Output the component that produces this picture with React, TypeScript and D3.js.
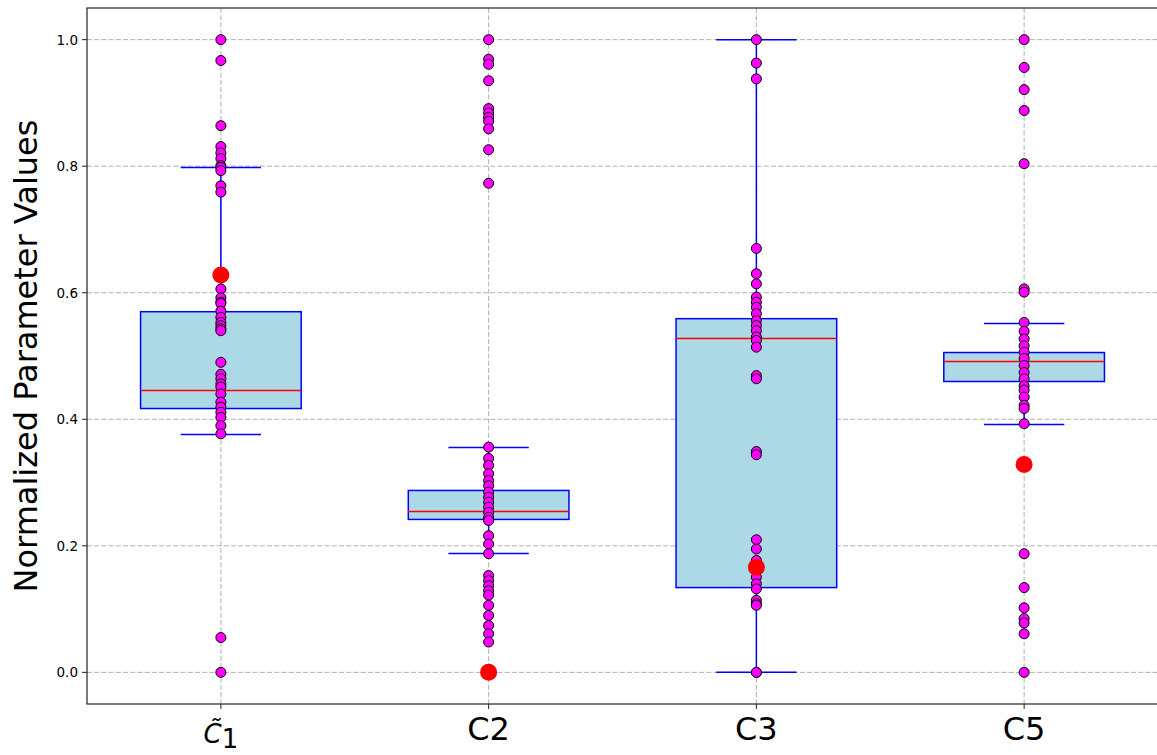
import React from "react";
import * as d3 from "d3";

// Categories along the x axis
const categories = ["C1", "C2", "C3", "C5"];

// Box statistics per category
const whiskerLow = [0.376, 0.188, 0.0, 0.3918];
const q1 = [0.417, 0.2417, 0.134, 0.4597];
const median = [0.4455, 0.2543, 0.5276, 0.4913];
const q3 = [0.570, 0.2875, 0.559, 0.5055];
const whiskerHigh = [0.798, 0.3555, 1.0, 0.5513];

// Individual normalized parameter values per category
const pointsC1 = [
  1.0, 0.967, 0.864, 0.831, 0.821, 0.812, 0.801, 0.798, 0.793, 0.769, 0.759,
  0.606, 0.592, 0.585, 0.583, 0.571, 0.561, 0.553, 0.548, 0.543, 0.540,
  0.490, 0.471, 0.464, 0.456, 0.451, 0.440, 0.427, 0.419, 0.411, 0.403,
  0.390, 0.377, 0.055, 0.0,
];
const pointsC2 = [
  1.0, 0.969, 0.961, 0.935, 0.891, 0.884, 0.877, 0.871, 0.859, 0.826, 0.773,
  0.356, 0.338, 0.327, 0.314, 0.303, 0.295, 0.285, 0.277, 0.269, 0.261,
  0.253, 0.245, 0.240, 0.216, 0.203, 0.1875, 0.153, 0.145, 0.137, 0.129,
  0.122, 0.106, 0.090, 0.074, 0.061, 0.048,
];
const pointsC3 = [
  1.0, 0.963, 0.938, 0.670, 0.630, 0.614, 0.593, 0.585, 0.577, 0.567, 0.556,
  0.548, 0.540, 0.530, 0.5245, 0.514, 0.469, 0.464, 0.349, 0.344, 0.2096,
  0.195, 0.177, 0.164, 0.1506, 0.140, 0.132, 0.114, 0.1085, 0.106, 0.0, 0.0,
];
const pointsC5 = [
  1.0, 0.956, 0.921, 0.888, 0.804, 0.606, 0.601, 0.553, 0.539, 0.527, 0.516,
  0.506, 0.496, 0.485, 0.474, 0.464, 0.453, 0.446, 0.435, 0.422, 0.417,
  0.393, 0.1875, 0.134, 0.102, 0.085, 0.078, 0.061, 0.0,
];
const points = [pointsC1, pointsC2, pointsC3, pointsC5];

// Highlighted reference value per category
const highlight = [0.628, 0.0, 0.166, 0.3286];

const yTicks = [0.0, 0.2, 0.4, 0.6, 0.8, 1.0];

const W = 1157;
const H = 755;
const left = 87;
const right = 1158;
const top = 8;
const bottom = 704;

export default function App() {
  const x = d3.scaleBand<string>().domain(categories).range([left, right]).padding(0);
  const y = d3.scaleLinear().domain([-0.05, 1.05]).range([bottom, top]);
  const bw = x.bandwidth();
  const cx = (c: string) => (x(c) as number) + bw / 2;
  const boxW = bw * 0.6;
  const capW = bw * 0.3;
  const gridStyle = { stroke: "#b0b0b0", strokeWidth: 1, strokeDasharray: "5,2.2" };
  const font = "DejaVu Sans, sans-serif";

  return (
    <div style={{ position: "fixed", left: 0, top: 0 }}>
      <svg width={W} height={H} style={{ display: "block", background: "#fff" }}>
        <defs>
          <clipPath id="plot">
            <rect x={left} y={top} width={right - left} height={bottom - top} />
          </clipPath>
        </defs>
        {/* grid */}
        <g>
          {yTicks.map((t) => (
            <line key={"gy" + t} x1={left} x2={right} y1={y(t)} y2={y(t)} {...gridStyle} />
          ))}
          {categories.map((c) => (
            <line key={"gx" + c} x1={cx(c)} x2={cx(c)} y1={top} y2={bottom} {...gridStyle} />
          ))}
        </g>
        {/* boxes */}
        <g clipPath="url(#plot)">
          {categories.map((c, i) => {
            const xc = cx(c);
            return (
              <g key={"box" + c}>
                <line x1={xc} x2={xc} y1={y(q3[i])} y2={y(whiskerHigh[i])} stroke="#0000ff" strokeWidth={1.5} />
                <line x1={xc} x2={xc} y1={y(q1[i])} y2={y(whiskerLow[i])} stroke="#0000ff" strokeWidth={1.5} />
                <line x1={xc - capW / 2} x2={xc + capW / 2} y1={y(whiskerHigh[i])} y2={y(whiskerHigh[i])} stroke="#0000ff" strokeWidth={1.5} />
                <line x1={xc - capW / 2} x2={xc + capW / 2} y1={y(whiskerLow[i])} y2={y(whiskerLow[i])} stroke="#0000ff" strokeWidth={1.5} />
                <rect
                  x={xc - boxW / 2}
                  y={y(q3[i])}
                  width={boxW}
                  height={y(q1[i]) - y(q3[i])}
                  fill="#add8e6"
                  stroke="#0000ff"
                  strokeWidth={1.5}
                />
                <line x1={xc - boxW / 2} x2={xc + boxW / 2} y1={y(median[i])} y2={y(median[i])} stroke="#ff0000" strokeWidth={1.5} />
              </g>
            );
          })}
        </g>
        {/* points */}
        <g>
          {categories.map((c, i) =>
            points[i].map((v, j) => (
              <circle key={c + "p" + j} cx={cx(c)} cy={y(v)} r={5} fill="#ff00ff" stroke="#000" strokeWidth={1} />
            ))
          )}
          {categories.map((c, i) => (
            <circle key={c + "h"} cx={cx(c)} cy={y(highlight[i])} r={8.5} fill="#ff0000" />
          ))}
        </g>
        {/* frame */}
        <rect x={left} y={top} width={right - left} height={bottom - top} fill="none" stroke="#222" strokeWidth={1.2} />
        {/* y axis */}
        <g fontFamily={font} fontSize={13.5} fill="#000">
          {yTicks.map((t) => (
            <g key={"yt" + t}>
              <line x1={left - 5} x2={left} y1={y(t)} y2={y(t)} stroke="#222" strokeWidth={1} />
              <text x={left - 9} y={y(t)} textAnchor="end" dominantBaseline="central">
                {t.toFixed(1)}
              </text>
            </g>
          ))}
        </g>
        <text
          transform={`translate(37,${(top + bottom) / 2}) rotate(-90)`}
          textAnchor="middle"
          fontFamily={font}
          fontSize={32}
          fill="#000"
        >
          Normalized Parameter Values
        </text>
        {/* x axis */}
        <g fontFamily={font} fill="#000">
          {categories.map((c, i) => (
            <g key={"xt" + c}>
              <line x1={cx(c)} x2={cx(c)} y1={bottom} y2={bottom + 5} stroke="#222" strokeWidth={1} />
              {i === 0 ? (
                <text x={cx(c)} y={743} textAnchor="middle" fontSize={26}>
                  <tspan fontStyle="italic">{"C\u0303"}</tspan>
                  <tspan dy={5}>1</tspan>
                </text>
              ) : (
                <text x={cx(c)} y={740} textAnchor="middle" fontSize={32}>
                  {c}
                </text>
              )}
            </g>
          ))}
        </g>
      </svg>
    </div>
  );
}
